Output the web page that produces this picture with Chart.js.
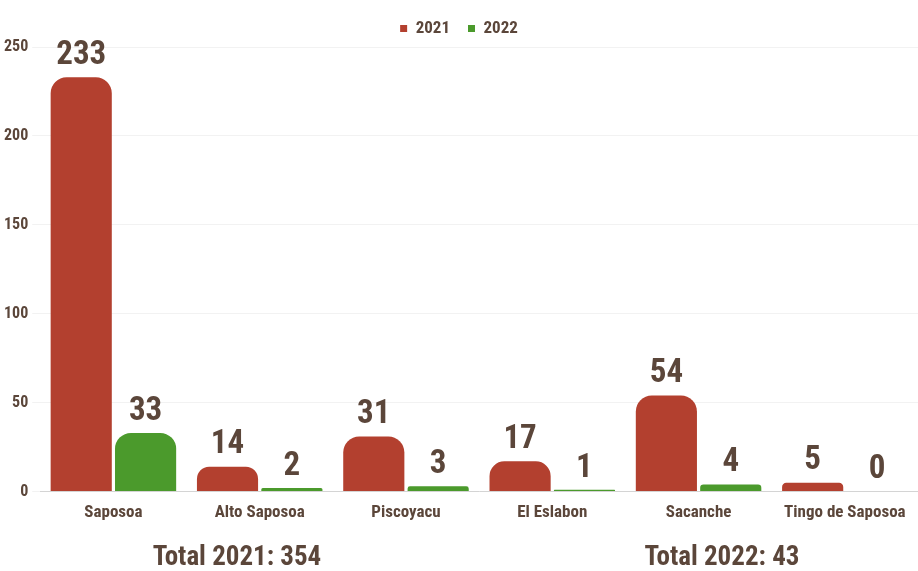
<!DOCTYPE html>
<html>
<head>
<meta charset="utf-8">
<script src="https://cdn.jsdelivr.net/npm/chart.js@4"></script>
<style>
  html, body { margin: 0; padding: 0; background: #fff; }
  #wrap { width: 918px; height: 571px; position: relative; }
</style>
</head>
<body>
<div id="wrap"><canvas id="chart"></canvas></div>
<script>
'use strict'

const labels = ['Saposoa', 'Alto Saposoa', 'Piscoyacu', 'El Eslabon', 'Sacanche', 'Tingo de Saposoa'];
const data2021 = [233, 14, 31, 17, 54, 5];
const data2022 = [33, 2, 3, 1, 4, 0];
const yTicks = [0, 50, 100, 150, 200, 250];

const FONT = '"Liberation Sans Narrow", "Roboto Condensed", Roboto, sans-serif';
const TEXT = '#5b463a';

let sum = (arr) => arr.reduce((a, b) => a + b, 0);

// values above every bar
const valueLabels = {
  id: 'valueLabels',
  afterDatasetsDraw(chart) {
    let ctx = chart.ctx;
    ctx.save();
    ctx.font = 'bold 33px ' + FONT;
    ctx.fillStyle = TEXT;
    ctx.textAlign = 'center';
    ctx.textBaseline = 'bottom';
    chart.data.datasets.forEach((ds, i) => {
      chart.getDatasetMeta(i).data.forEach((bar, j) => {
        ctx.fillText(ds.data[j], bar.x, bar.y - 5);
      });
    });
    ctx.restore();
  }
};

// totals under the axis
const totals = {
  id: 'totals',
  afterDraw(chart) {
    let ctx = chart.ctx;
    ctx.save();
    ctx.font = 'bold 27px ' + FONT;
    ctx.fillStyle = TEXT;
    ctx.textAlign = 'center';
    ctx.textBaseline = 'middle';
    ctx.fillText('Total 2021: ' + sum(data2021), 237, 558);
    ctx.fillText('Total 2022: ' + sum(data2022), 722, 558);
    ctx.restore();
  }
};

new Chart(document.getElementById('chart'), {
  type: 'bar',
  data: {
    labels: labels,
    datasets: [
      {
        label: '2021',
        data: data2021,
        backgroundColor: '#b3402f',
        borderRadius: { topLeft: 16, topRight: 16 },
        borderSkipped: 'bottom'
      },
      {
        label: '2022',
        data: data2022,
        backgroundColor: '#4b9a2c',
        borderRadius: { topLeft: 16, topRight: 16 },
        borderSkipped: 'bottom'
      }
    ]
  },
  options: {
    responsive: true,
    maintainAspectRatio: false,
    animation: false,
    categoryPercentage: 0.88,
    barPercentage: 0.95,
    layout: { padding: { top: 2, right: 0, bottom: 45, left: 0 } },
    plugins: {
      legend: {
        labels: {
          boxWidth: 7,
          boxHeight: 7,
          padding: 18,
          color: TEXT,
          font: { family: FONT, size: 17, weight: 'bold' }
        }
      },
      tooltip: { enabled: false }
    },
    scales: {
      x: {
        grid: { display: false },
        border: { color: '#d4d4d4' },
        ticks: { color: TEXT, padding: 3, font: { family: FONT, size: 17, weight: 'bold' } }
      },
      y: {
        min: 0,
        max: 250,
        afterBuildTicks: (axis) => { axis.ticks = yTicks.map(v => ({ value: v })); },
        grid: { color: '#f2f2f2' },
        border: { display: false },
        ticks: { color: TEXT, padding: 4, font: { family: FONT, size: 16, weight: 'bold' } }
      }
    }
  },
  plugins: [valueLabels, totals]
});
</script>
</body>
</html>
